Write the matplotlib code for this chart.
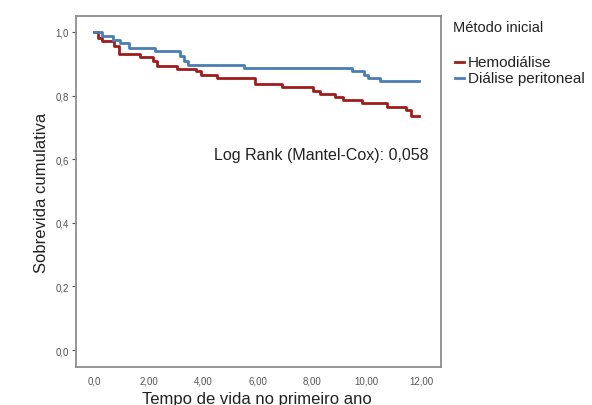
import matplotlib
matplotlib.use("Agg")
import matplotlib.pyplot as plt
from matplotlib.lines import Line2D

plt.rcParams['font.family'] = ['Liberation Sans', 'DejaVu Sans']

# Data (Kaplan-Meier step curves)
hemo_t = [0, 0.13, 0.3, 0.75, 0.92, 1.7, 2.15, 2.3, 3.05, 3.75, 3.92, 4.5, 5.9, 6.9,
          8.05, 8.3, 8.85, 9.15, 9.85, 10.75, 11.45, 11.62, 11.92]
hemo_s = [1.0, 0.982, 0.97, 0.955, 0.932, 0.921, 0.908, 0.893, 0.884, 0.876, 0.866, 0.856,
          0.837, 0.826, 0.815, 0.806, 0.797, 0.787, 0.776, 0.765, 0.755, 0.735, 0.735]
peri_t = [0, 0.3, 0.7, 0.95, 1.3, 2.25, 3.15, 3.3, 3.45, 5.5, 9.45, 9.9, 10.05, 10.5, 11.92]
peri_s = [1.0, 0.987, 0.976, 0.965, 0.95, 0.94, 0.925, 0.91, 0.897, 0.886, 0.876, 0.866,
          0.856, 0.846, 0.846]

x_ticks = [0, 2, 4, 6, 8, 10, 12]
x_ticklabels = ["0,0", "2,00", "4,00", "6,00", "8,00", "10,00", "12,00"]
y_ticks = [0.0, 0.2, 0.4, 0.6, 0.8, 1.0]
y_ticklabels = ["0,0", "0,2", "0,4", "0,6", "0,8", "1,0"]

red = "#9e1c1c"
blue = "#4a7db3"

fig = plt.figure(figsize=(5.92, 4.06), dpi=100)
ax = fig.add_axes([76/592, 1-368/406, (441-76)/592, (368-17)/406])

ax.step(hemo_t, hemo_s, where='post', color=red, lw=2.0)
ax.step(peri_t, peri_s, where='post', color=blue, lw=2.0)

ax.set_xlim(-0.66, 12.73)
ax.set_ylim(-0.053, 1.05)
ax.set_xticks(x_ticks)
ax.set_xticklabels(x_ticklabels)
ax.set_yticks(y_ticks)
ax.set_yticklabels(y_ticklabels)
ax.tick_params(labelsize=7, colors="#555555", length=3, width=0.8, pad=2)
ax.tick_params(axis='x', length=0, pad=6)
for sp in ax.spines.values():
    sp.set_color("#8c8c8c")
    sp.set_linewidth(1.3)

ax.text(12.26, 0.616, "Log Rank (Mantel-Cox): 0,058", ha='right', va='center',
        fontsize=11.5, color="#222222")

fig.text(42/592, 1-193/406, "Sobrevida cumulativa", rotation=90, ha='center', va='center',
         fontsize=12, color="#222222")
fig.text(257/592, 1-400/406, "Tempo de vida no primeiro ano", ha='center', va='center',
         fontsize=12, color="#222222")

fig.text(453/592, 1-28/406, "Método inicial", ha='left', va='center', fontsize=10.5, color="#222222")
for i, (lab, col) in enumerate([("Hemodiálise", red), ("Diálise peritoneal", blue)]):
    yy = 1 - (63 + i*16)/406
    fig.add_artist(Line2D([455/592, 464/592], [yy, yy], color=col, lw=2, transform=fig.transFigure))
    fig.text(468/592, yy, lab, ha='left', va='center', fontsize=11, color="#222222")

fig.savefig("out.png", dpi=100)
